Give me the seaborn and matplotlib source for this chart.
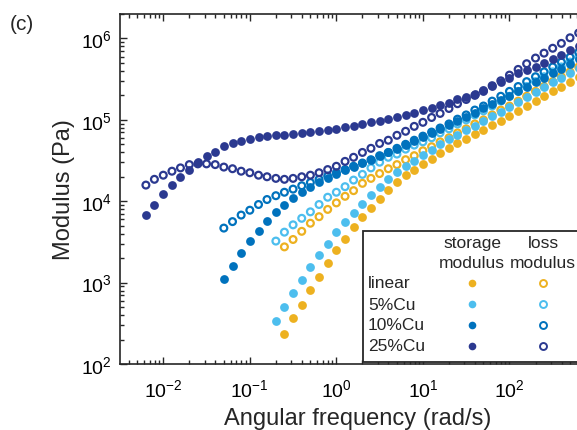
import numpy as np
import seaborn as sns
import matplotlib
matplotlib.use("Agg")
import matplotlib.pyplot as plt
from matplotlib.ticker import LogLocator, NullFormatter
from matplotlib.patches import Rectangle
from matplotlib.lines import Line2D

# angular frequency of the sweep (rad/s); every sample ends at the top frequency
freq = [0.0063, 0.0079, 0.01, 0.0126, 0.0158, 0.02, 0.0251, 0.0316, 0.0398,
        0.0501, 0.0631, 0.0794, 0.1, 0.126, 0.158, 0.2, 0.251, 0.316, 0.398,
        0.501, 0.631, 0.794, 1, 1.26, 1.58, 2.0, 2.51, 3.16, 3.98, 5.01, 6.31,
        7.94, 10, 12.6, 15.8, 20, 25.1, 31.6, 39.8, 50.1, 63.1, 79.4, 100,
        126, 158, 200, 251, 316, 398, 501, 631]

# storage (G') and loss (G'') modulus, Pa
linear_storage = [234, 363, 537, 813, 1170, 1740, 2510, 3470, 4790, 6460,
                  8320, 10700, 13800, 17000, 20900, 24500, 28800, 33100,
                  38900, 44700, 51300, 58900, 67600, 75900, 87100, 97700,
                  112000, 129000, 148000, 170000, 195000, 224000, 257000,
                  295000, 339000]
linear_loss = [2750, 3390, 4270, 5370, 6460, 7940, 9550, 11500, 13500, 16600,
               19100, 21900, 25100, 28200, 32400, 36300, 41700, 46800, 53700,
               60300, 69200, 77600, 89100, 100000, 115000, 132000, 148000,
               170000, 195000, 224000, 257000, 295000, 339000, 389000, 447000]

cu5_storage = [339, 501, 741, 1070, 1550, 2190, 3020, 4170, 5620, 7240, 9330,
               12000, 15100, 18600, 22900, 26900, 31600, 37200, 42700, 50100,
               57500, 66100, 74100, 85100, 97700, 112000, 126000, 145000,
               166000, 191000, 219000, 251000, 288000, 331000, 380000, 437000]
cu5_loss = [3240, 4170, 5130, 6170, 7410, 9120, 11200, 12900, 15100, 18200,
            21400, 25700, 30200, 34700, 38000, 43700, 49000, 53700, 60300,
            69200, 77600, 89100, 100000, 115000, 129000, 148000, 170000,
            195000, 224000, 257000, 295000, 339000, 389000, 447000, 513000,
            589000]

cu10_storage = [1120, 1620, 2290, 3240, 4370, 5750, 7410, 9120, 11000, 12900,
                15100, 17400, 19500, 21400, 24000, 26300, 29500, 32400, 35500,
                39800, 43700, 49000, 55000, 61700, 69200, 77600, 87100, 97700,
                110000, 123000, 138000, 155000, 174000, 195000, 224000,
                251000, 288000, 324000, 372000, 427000, 490000, 562000]
cu10_loss = [4680, 5620, 6760, 7760, 9120, 10500, 11700, 12900, 14100, 15500,
             17000, 18600, 20400, 22400, 24500, 26900, 29500, 32400, 36300,
             39800, 44700, 50100, 56200, 63100, 70800, 79400, 89100, 102000,
             115000, 132000, 148000, 170000, 195000, 224000, 257000, 295000,
             339000, 389000, 447000, 513000, 589000, 676000]

cu25_storage = [6800, 9100, 12300, 15800, 20000, 24500, 30200, 35500, 40700,
                47900, 51300, 55000, 58900, 61700, 63100, 64600, 66100, 67600,
                69200, 70800, 72400, 74100, 77600, 81300, 85100, 89100, 93300,
                97700, 102000, 110000, 115000, 123000, 132000, 141000, 151000,
                162000, 178000, 191000, 209000, 229000, 263000, 295000,
                331000, 372000, 407000, 447000, 501000, 562000, 631000,
                724000, 813000]
cu25_loss = [15800, 18600, 20900, 23400, 25700, 28200, 28800, 28800, 28200,
             26300, 25100, 23400, 22400, 20900, 20000, 19100, 18600, 19100,
             20000, 20900, 22400, 24500, 26900, 30900, 34700, 39800, 44700,
             51300, 56200, 64600, 72400, 83200, 93300, 107000, 120000,
             138000, 158000, 178000, 200000, 229000, 263000, 302000, 355000,
             417000, 490000, 575000, 661000, 759000, 871000, 1020000, 1170000]

samples = ['linear', '5%Cu', '10%Cu', '25%Cu']
colors = ['#EDB120', '#4DBEEE', '#0072BD', '#2B3990']
storage = [linear_storage, cu5_storage, cu10_storage, cu25_storage]
loss = [linear_loss, cu5_loss, cu10_loss, cu25_loss]

sns.set_theme(style='ticks')
plt.rcParams['font.family'] = ['Liberation Sans', 'DejaVu Sans']
plt.rcParams['mathtext.fontset'] = 'custom'
plt.rcParams['mathtext.rm'] = 'Liberation Sans'
plt.rcParams['mathtext.it'] = 'Liberation Sans:italic'

W, H = 577, 431
fig = plt.figure(figsize=(W / 100, H / 100), dpi=100)
ax = fig.add_axes([120 / W, 1 - 365 / H, 476 / W, 350 / H])

for name, c, gs, gl in zip(samples, colors, storage, loss):
    sns.scatterplot(x=freq[-len(gs):], y=gs, color=c, s=40, linewidth=0,
                    ax=ax, zorder=3)
    sns.scatterplot(x=freq[-len(gl):], y=gl, facecolor='none', edgecolor=c,
                    s=24, linewidth=1.6, ax=ax, zorder=3)

ax.set_xscale('log')
ax.set_yscale('log')
ax.set_xlim(10 ** -2.5, 1e3)
ax.set_ylim(1e2, 2e6)
ax.set_xticks([1e-2, 1e-1, 1e0, 1e1, 1e2])
ax.set_yticks([1e2, 1e3, 1e4, 1e5, 1e6])
ax.xaxis.set_minor_locator(LogLocator(base=10, subs=np.arange(2, 10)))
ax.yaxis.set_minor_locator(LogLocator(base=10, subs=np.arange(2, 10)))
ax.xaxis.set_minor_formatter(NullFormatter())
ax.yaxis.set_minor_formatter(NullFormatter())
ax.tick_params(which='both', direction='in', top=True, right=True,
               colors='#262626', labelcolor='black', width=1)
ax.tick_params(which='major', length=5, labelsize=14)
ax.tick_params(which='minor', length=3)
ax.tick_params(axis='x', pad=10)
ax.tick_params(axis='y', pad=6)
for sp in ax.spines.values():
    sp.set_linewidth(1.2)
    sp.set_color('#262626')

ax.set_xlabel('Angular frequency (rad/s)', fontsize=17, labelpad=5)
ax.set_ylabel('Modulus (Pa)', fontsize=17, labelpad=4)

fig.text(10 / W, 1 - 24 / H, '(c)', fontsize=15, va='center', ha='left')


def fx(x):
    return x / W


def fy(y):
    return 1 - y / H


# legend table
fig.add_artist(Rectangle((fx(363), fy(363)), fx(600) - fx(363),
                         fy(232) - fy(363), transform=fig.transFigure,
                         facecolor='white', edgecolor='#262626', lw=1.3,
                         zorder=4))
fig.text(fx(472), fy(244), 'storage', fontsize=12.5, ha='center',
         va='center', zorder=5)
fig.text(fx(472), fy(264), 'modulus', fontsize=12.5, ha='center',
         va='center', zorder=5)
fig.text(fx(543), fy(244), 'loss', fontsize=12.5, ha='center', va='center',
         zorder=5)
fig.text(fx(543), fy(264), 'modulus', fontsize=12.5, ha='center',
         va='center', zorder=5)
row_y = [284, 305, 326, 347]
for name, c, ry in zip(samples, colors, row_y):
    fig.text(fx(368), fy(ry), name, fontsize=12.5, ha='left', va='center',
             zorder=5)
    fig.add_artist(Line2D([fx(472)], [fy(ry)], marker='o', markersize=5.5,
                          color=c, markeredgewidth=0, linestyle='none',
                          transform=fig.transFigure, zorder=5))
    fig.add_artist(Line2D([fx(543)], [fy(ry)], marker='o', markersize=5,
                          markerfacecolor='none', markeredgecolor=c,
                          markeredgewidth=1.4, linestyle='none',
                          transform=fig.transFigure, zorder=5))

fig.savefig('out.png', dpi=100)
